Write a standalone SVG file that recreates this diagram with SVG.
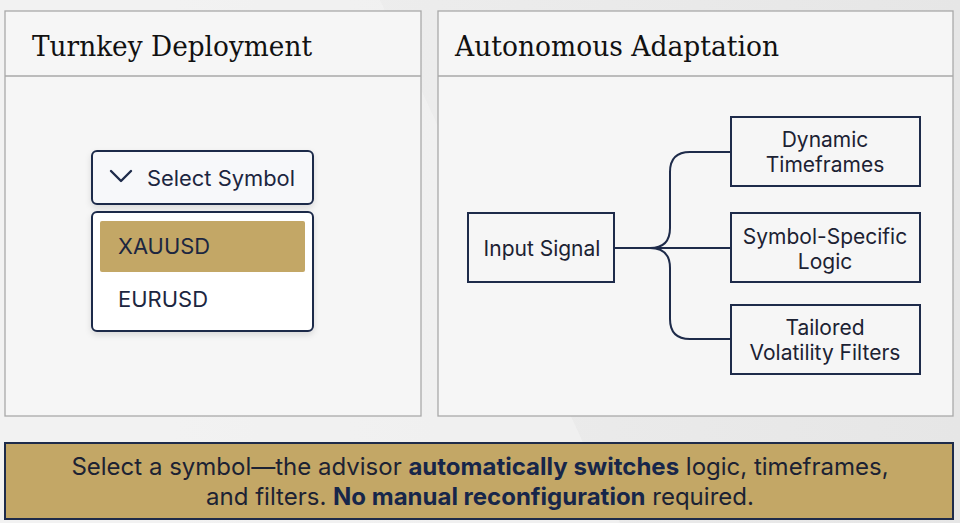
<svg xmlns="http://www.w3.org/2000/svg" width="960" height="523" viewBox="0 0 960 523">
<defs>
<linearGradient id="bg" x1="0" y1="0" x2="1" y2="0">
<stop offset="0" stop-color="#f1f1f1"/><stop offset="1" stop-color="#e6e6e6"/>
</linearGradient>
<filter id="sh" x="-10%" y="-10%" width="120%" height="130%"><feDropShadow dx="0" dy="3" stdDeviation="3" flood-color="#000" flood-opacity="0.12"/></filter>
</defs>
<style>
.panel{fill:#f6f6f6;stroke:#a9a9a9;stroke-width:1.3}
.div{stroke:#a9a9a9;stroke-width:1.3}
.title{font-family:"DejaVu Serif","Liberation Serif",serif;font-size:27px;fill:#111}
.box{fill:#f6f6f6;stroke:#1e2b4a;stroke-width:2}
.lbl{font-family:Inter,"Liberation Sans",sans-serif;font-size:21px;fill:#1c2233;text-anchor:middle}
.dd{font-family:Inter,"Liberation Sans",sans-serif;font-size:21px;fill:#1c2640}
.conn{fill:none;stroke:#1e2b4a;stroke-width:2}
.ban{font-family:Inter,"Liberation Sans",sans-serif;font-size:24px;fill:#1c2233;text-anchor:middle}
.b{font-weight:700;fill:#17264a}
</style>
<rect width="960" height="523" fill="url(#bg)"/>
<polygon points="0,0 380,0 620,523 0,523" fill="#f4f4f4" opacity="0.6"/>

<g id="panel-left">
<rect class="panel" x="5" y="11" width="416" height="405"/>
<line class="div" x1="5" y1="76" x2="421" y2="76"/>
<text class="title" x="32" y="56" textLength="280" lengthAdjust="spacingAndGlyphs">Turnkey Deployment</text>
</g>

<g id="select-box">
<rect x="92" y="151" width="221" height="53" rx="5" fill="#f7f8fa" stroke="#1e2b4a" stroke-width="2" filter="url(#sh)"/>
<polyline points="111,171 121,181 131,171" fill="none" stroke="#1e2b4a" stroke-width="2.4" stroke-linecap="round" stroke-linejoin="round"/>
<text class="dd" x="147" y="186" textLength="148" lengthAdjust="spacingAndGlyphs">Select Symbol</text>
</g>

<g id="dropdown-list">
<rect x="92" y="212" width="221" height="119" rx="5" fill="#ffffff" stroke="#1e2b4a" stroke-width="2" filter="url(#sh)"/>
<rect x="100" y="221" width="205" height="51" rx="2" fill="#c3a766"/>
<text class="dd" x="118" y="254" textLength="92" lengthAdjust="spacingAndGlyphs">XAUUSD</text>
<text class="dd" x="118" y="307" textLength="90" lengthAdjust="spacingAndGlyphs">EURUSD</text>
</g>

<g id="panel-right">
<rect class="panel" x="438" y="11" width="515" height="405"/>
<line class="div" x1="438" y1="76" x2="953" y2="76"/>
<text class="title" x="455" y="56" textLength="324" lengthAdjust="spacingAndGlyphs">Autonomous Adaptation</text>
</g>

<g id="connectors">
<path class="conn" d="M614,248 H731"/>
<path class="conn" d="M650,248 Q670,248 670,228 V172 Q670,152 690,152 H731"/>
<path class="conn" d="M650,248 Q670,248 670,268 V319 Q670,339 690,339 H731"/>
</g>

<g id="input-signal">
<rect class="box" x="468" y="213" width="146" height="69"/>
<text class="lbl" x="542" y="256">Input Signal</text>
</g>
<g id="dynamic-timeframes">
<rect class="box" x="731" y="117" width="189" height="69"/>
<text class="lbl" x="825" y="147">Dynamic</text>
<text class="lbl" x="825" y="172">Timeframes</text>
</g>
<g id="symbol-specific-logic">
<rect class="box" x="731" y="213" width="189" height="69"/>
<text class="lbl" x="825" y="244">Symbol-Specific</text>
<text class="lbl" x="825" y="269">Logic</text>
</g>
<g id="volatility-filters">
<rect class="box" x="731" y="305" width="189" height="69"/>
<text class="lbl" x="825" y="335">Tailored</text>
<text class="lbl" x="825" y="360">Volatility Filters</text>
</g>

<g id="banner">
<rect x="5" y="443" width="948" height="76" fill="#c3a766" stroke="#1e2b4a" stroke-width="2"/>
<text class="ban" x="480" y="475">Select a symbol—the advisor <tspan class="b">automatically switches</tspan> logic, timeframes,</text>
<text class="ban" x="480" y="505">and filters. <tspan class="b">No manual reconfiguration</tspan> required.</text>
</g>
</svg>
